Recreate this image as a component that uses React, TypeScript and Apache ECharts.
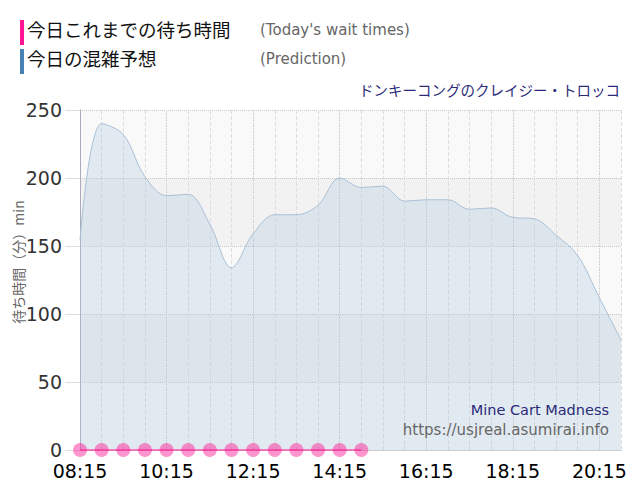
import React, { useEffect, useRef } from "react";
import * as echarts from "echarts";

const times = [
  "08:15", "08:45", "09:15", "09:45", "10:15", "10:45", "11:15", "11:45",
  "12:15", "12:45", "13:15", "13:45", "14:15", "14:45", "15:15", "15:45",
  "16:15", "16:45", "17:15", "17:45", "18:15", "18:45", "19:15", "19:45",
  "20:15", "20:45",
];
const prediction = [
  154, 240, 232, 201, 187, 188, 166, 134, 159, 173, 173, 180, 200, 193, 194,
  183, 184, 184, 177, 178, 171, 170, 158, 143, 112, 81,
];
const actual = [0, 0, 0, 0, 0, 0, 0, 0, 0, 0, 0, 0, 0, 0];
const yTicks = [0, 50, 100, 150, 200, 250];

const title = "ドンキーコングのクレイジー・トロッコ";
const legendActual = "今日これまでの待ち時間";
const legendActualEn = "(Today's wait times)";
const legendPred = "今日の混雑予想";
const legendPredEn = "(Prediction)";
const yName = "待ち時間（分）min";
const engName = "Mine Cart Madness";
const site = "https://usjreal.asumirai.info";

const JP = "'Noto Sans CJK JP', sans-serif";
const LAT = "DejaVu Sans";

export default function App() {
  const ref = useRef<HTMLDivElement>(null);
  useEffect(() => {
    if (!ref.current) return;
    const chart = echarts.init(ref.current, null, { renderer: "svg" });
    chart.setOption({
      animation: false,
      backgroundColor: "#ffffff",
      grid: { left: 80, right: 19, top: 110, bottom: 50, containLabel: false },
      graphic: [
        { type: "rect", left: 20, top: 20, shape: { width: 4, height: 25 }, style: { fill: "#ff1493" } },
        { type: "text", left: 27, top: 20, style: { text: legendActual, font: `18.5px ${JP}`, fill: "#111" } },
        { type: "text", left: 260, top: 22, style: { text: legendActualEn, font: `15px ${LAT}`, fill: "#666" } },
        { type: "rect", left: 20, top: 49, shape: { width: 4, height: 25 }, style: { fill: "#4682b4" } },
        { type: "text", left: 27, top: 49, style: { text: legendPred, font: `18.5px ${JP}`, fill: "#111" } },
        { type: "text", left: 260, top: 51, style: { text: legendPredEn, font: `15px ${LAT}`, fill: "#666" } },
        { type: "text", right: 20, top: 82, style: { text: title, font: `14.5px ${JP}`, fill: "#2b2b7a" } },
        { type: "text", right: 31, top: 402, z: 100, style: { text: engName, font: `14.5px ${LAT}`, fill: "#2b2b7a" } },
        { type: "text", right: 31, top: 422, z: 100, style: { text: site, font: `15px ${LAT}`, fill: "#666" } },
        {
          type: "text", rotation: Math.PI / 2, z: 100, x: 18, y: 262,
          style: { text: yName, font: `14px ${JP}`, fill: "#666", align: "center", verticalAlign: "middle" },
        },
      ],
      xAxis: [
        {
          type: "category",
          data: times,
          boundaryGap: false,
          axisLine: { show: true, lineStyle: { color: "#ccc" } },
          axisTick: { show: false },
          axisLabel: { interval: 3, color: "#000", fontSize: 19, fontFamily: LAT, margin: 11 },
          splitLine: { show: true, interval: 3, lineStyle: { type: "dotted", color: "#c4c4c4" } },
        },
        {
          type: "category",
          data: times,
          boundaryGap: false,
          position: "bottom",
          axisLine: { show: false },
          axisTick: { show: false },
          axisLabel: { show: false },
          splitLine: { show: true, interval: 0, lineStyle: { type: "dashed", color: "#dedede" } },
        },
      ],
      yAxis: {
        type: "value",
        min: yTicks[0],
        max: yTicks[yTicks.length - 1],
        interval: 50,
        axisLine: { show: true, lineStyle: { color: "#aab" } },
        axisTick: { show: true, length: 15, lineStyle: { color: "#ddd" } },
        axisLabel: { color: "#333", fontSize: 19, fontFamily: LAT, margin: 18 },
        splitLine: { show: true, lineStyle: { type: "dotted", color: "#c8c8c8" } },
        splitArea: { show: true, areaStyle: { color: ["#f9f9f9", "#f2f2f2"] } },
      },
      series: [
        {
          type: "line",
          name: legendPred,
          data: prediction,
          smooth: 0.35,
          symbol: "none",
          lineStyle: { color: "#a9bfd6", width: 1 },
          areaStyle: { color: "rgba(176,200,222,0.45)" },
          z: 2,
        },
        {
          type: "line",
          name: legendActual,
          data: actual,
          symbol: "circle",
          symbolSize: 14,
          showAllSymbol: true,
          itemStyle: { color: "rgba(255,20,147,0.45)" },
          lineStyle: { color: "rgba(255,20,147,0.5)", width: 2 },
          z: 3,
        },
      ],
    });
    return () => chart.dispose();
  }, []);
  return <div ref={ref} style={{ position: "fixed", left: 0, top: 0, width: 640, height: 500 }} />;
}
